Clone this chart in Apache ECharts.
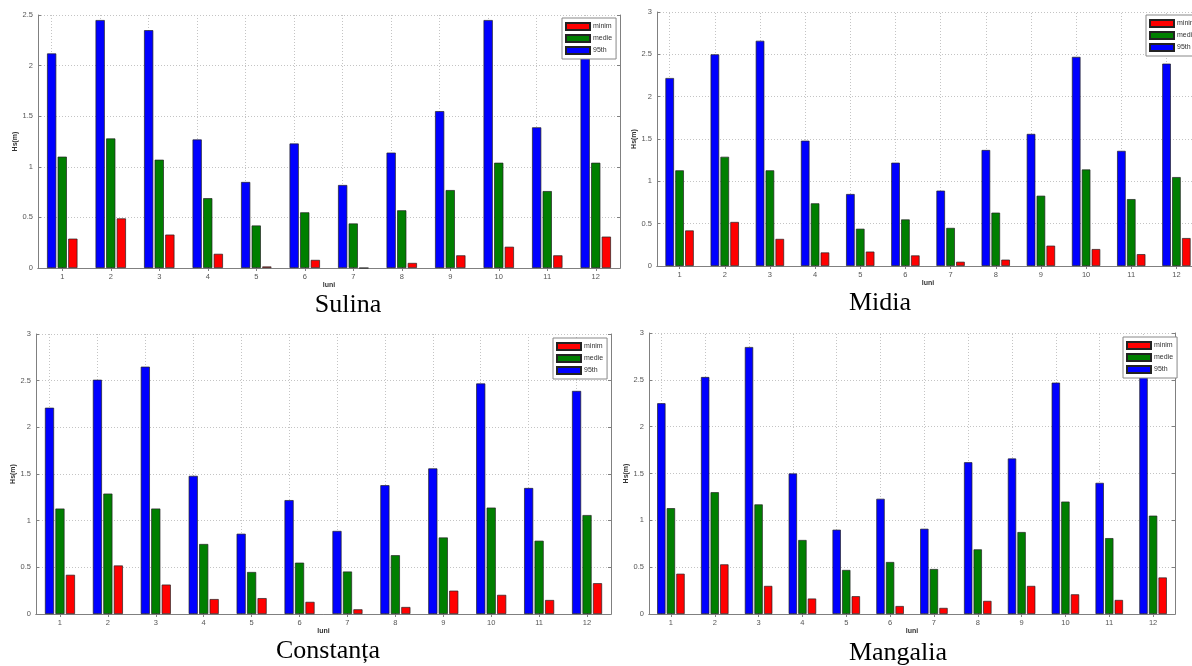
<!DOCTYPE html>
<html><head><meta charset="utf-8">
<script src="https://cdn.jsdelivr.net/npm/echarts@6/dist/echarts.min.js"></script>
<style>html,body{margin:0;padding:0;background:#fff}#c{width:1192px;height:666px}</style>
</head><body><div id="c"></div>
<script>
// ---- data ----
const months = ['1','2','3','4','5','6','7','8','9','10','11','12'];
const seriesNames = ['95th','medie','minim'];
const legendOrder = ['minim','medie','95th'];

const sulinaP95   = [2.12, 2.45, 2.35, 1.27, 0.85, 1.23, 0.82, 1.14, 1.55, 2.45, 1.39, 2.12];
const sulinaMedie = [1.10, 1.28, 1.07, 0.69, 0.42, 0.55, 0.44, 0.57, 0.77, 1.04, 0.76, 1.04];
const sulinaMinim = [0.29, 0.49, 0.33, 0.14, 0.015, 0.08, 0.0, 0.05, 0.125, 0.21, 0.125, 0.31];

const midiaP95   = [2.22, 2.50, 2.66, 1.48, 0.85, 1.22, 0.89, 1.37, 1.56, 2.47, 1.36, 2.39];
const midiaMedie = [1.13, 1.29, 1.13, 0.74, 0.44, 0.55, 0.45, 0.63, 0.83, 1.14, 0.79, 1.05];
const midiaMinim = [0.42, 0.52, 0.32, 0.16, 0.17, 0.125, 0.05, 0.075, 0.24, 0.20, 0.14, 0.33];

const constantaP95   = [2.21, 2.51, 2.65, 1.48, 0.86, 1.22, 0.89, 1.38, 1.56, 2.47, 1.35, 2.39];
const constantaMedie = [1.13, 1.29, 1.13, 0.75, 0.45, 0.55, 0.455, 0.63, 0.82, 1.14, 0.785, 1.06];
const constantaMinim = [0.42, 0.52, 0.315, 0.16, 0.17, 0.13, 0.05, 0.075, 0.25, 0.205, 0.15, 0.33];

const mangaliaP95   = [2.25, 2.53, 2.85, 1.50, 0.90, 1.23, 0.91, 1.62, 1.66, 2.47, 1.40, 2.75];
const mangaliaMedie = [1.13, 1.30, 1.17, 0.79, 0.47, 0.555, 0.48, 0.69, 0.875, 1.20, 0.81, 1.05];
const mangaliaMinim = [0.43, 0.53, 0.30, 0.165, 0.19, 0.085, 0.065, 0.14, 0.30, 0.21, 0.15, 0.39];

const xName = 'luni';
const yName = 'Hs(m)';

// ---- layout ----
const panels = [
  {title:'Sulina',    data:[sulinaP95, sulinaMedie, sulinaMinim],          max:2.5,
   grid:{left:38, top:15, width:582, height:253},  legend:{left:562, top:18},  tx:348, ty:292},
  {title:'Midia',     data:[midiaP95, midiaMedie, midiaMinim],              max:3,
   grid:{left:657, top:12, width:542, height:254}, legend:{left:1146, top:15}, tx:880, ty:290},
  {title:'Constanța', data:[constantaP95, constantaMedie, constantaMinim],  max:3,
   grid:{left:36, top:334, width:575, height:280}, legend:{left:553, top:338}, tx:328, ty:638},
  {title:'Mangalia',  data:[mangaliaP95, mangaliaMedie, mangaliaMinim],     max:3,
   grid:{left:649, top:333, width:526, height:281}, legend:{left:1123, top:337}, tx:898, ty:640}
];
const colors = {'95th':'#0000ff', 'medie':'#007f00', 'minim':'#ff0000'};
const boxColor = '#808080';
const gridLine = {color:'#c4c4c4', type:[1,2], width:1};
const labelStyle = {color:'#555', fontSize:7.5, fontFamily:'Liberation Sans'};
const nameStyle = {color:'#333', fontSize:7, fontWeight:'bold', fontFamily:'Liberation Sans'};

const option = {
  animation:false, backgroundColor:'#fff',
  grid:[], xAxis:[], yAxis:[], series:[], legend:[], graphic:[]
};

panels.forEach((p, i) => {
  option.grid.push(Object.assign({containLabel:false, outerBoundsMode:'none'}, p.grid));
  option.xAxis.push({
    type:'category', gridIndex:i, data:months, position:'bottom',
    name:xName, nameLocation:'middle', nameGap:13, nameTextStyle:nameStyle,
    axisLine:{show:true, lineStyle:{color:boxColor, width:1}},
    axisTick:{show:true, inside:true, alignWithLabel:true, length:3, lineStyle:{color:boxColor}},
    axisLabel:Object.assign({interval:0, margin:5}, labelStyle),
    splitLine:{show:false}
  });
  option.xAxis.push({
    type:'category', gridIndex:i, data:months, position:'top',
    axisLine:{show:true, lineStyle:{color:boxColor, width:1}},
    axisTick:{show:true, inside:true, alignWithLabel:true, length:3, lineStyle:{color:boxColor}},
    axisLabel:{show:false}, splitLine:{show:false}
  });
  option.yAxis.push({
    type:'value', gridIndex:i, min:0, max:p.max, interval:0.5, position:'left',
    name:yName, nameLocation:'middle', nameGap:19, nameRotate:90, nameTextStyle:nameStyle,
    axisLine:{show:true, lineStyle:{color:boxColor, width:1}},
    axisTick:{show:true, inside:true, length:3, lineStyle:{color:boxColor}},
    axisLabel:Object.assign({margin:5}, labelStyle),
    splitLine:{show:true, lineStyle:gridLine}
  });
  option.yAxis.push({
    type:'value', gridIndex:i, min:0, max:p.max, interval:0.5, position:'right',
    axisLine:{show:true, lineStyle:{color:boxColor, width:1}},
    axisTick:{show:true, inside:true, length:3, lineStyle:{color:boxColor}},
    axisLabel:{show:false}, splitLine:{show:false}
  });
  seriesNames.forEach((nm, k) => {
    const s = {
      type:'bar', name:nm, xAxisIndex:2*i, yAxisIndex:2*i, data:p.data[k],
      barWidth:'19%', barGap:'15%', z:3,
      itemStyle:{color:colors[nm], borderColor:'#222', borderWidth:0.7},
      emphasis:{disabled:true}
    };
    if (k === 0) {
      // vertical dotted grid lines at month centres
      s.markLine = {
        silent:true, symbol:['none','none'], z:1, animation:false,
        label:{show:false}, lineStyle:gridLine, emphasis:{disabled:true},
        data: months.map(m => ({xAxis:m}))
      };
    }
    option.series.push(s);
  });
  option.legend.push({
    data:legendOrder, orient:'vertical', left:p.legend.left, top:p.legend.top,
    itemWidth:24, itemHeight:7, itemGap:3, padding:[4,4,4,3], selectedMode:false,
    backgroundColor:'#fff', borderColor:'#888', borderWidth:1, borderRadius:0, z:10,
    icon:'rect', textStyle:{fontSize:7, color:'#333', fontFamily:'Liberation Sans', padding:[0,0,0,-2]}
  });
  option.graphic.push({
    type:'text', x:p.tx, y:p.ty,
    style:{text:p.title, font:'26px "Liberation Serif"', fill:'#000', textAlign:'center', textVerticalAlign:'top'}
  });
});

const chart = echarts.init(document.getElementById('c'), null, {renderer:'canvas'});
chart.setOption(option);
</script>
</body></html>
